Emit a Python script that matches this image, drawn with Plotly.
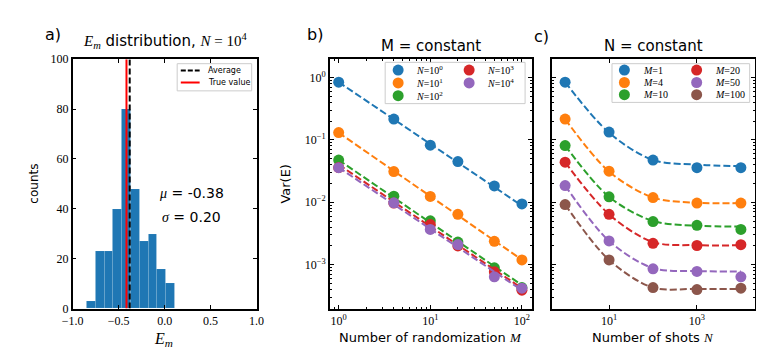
import numpy as np
import plotly.graph_objects as go

W, H = 764, 353

# ---- panel a: histogram of E_m for N = 10^4
bin_edges = [-0.848, -0.752, -0.657, -0.561, -0.465, -0.370, -0.274, -0.178, -0.082, 0.014, 0.110]
counts = [3, 23, 23, 40, 80, 48, 27, 30, 16, 10]
avg_value = -0.38
true_value = -0.415

# ---- panel b: Var(E) vs number of randomizations M (N fixed)
M_vals = [1, 4, 10, 20, 50, 100]
var_n1 = [0.84, 0.215, 0.082, 0.0448, 0.0183, 0.0094]
var_n10 = [0.131, 0.031, 0.0124, 0.0064, 0.00237, 0.00119]
var_n100 = [0.0475, 0.0125, 0.00505, 0.0023, 0.00089, 0.00043]
var_n1000 = [0.036, 0.0097, 0.0044, 0.0020, 0.00077, 0.00039]
var_n10000 = [0.0358, 0.0098, 0.00367, 0.0021, 0.00064, 0.00042]
# fitted lines (value at M=1 and M=100)
fit_M = [1, 100]
fit_n1 = [0.84, 0.0088]
fit_n10 = [0.13, 0.0012]
fit_n100 = [0.0475, 0.00047]
fit_n1000 = [0.040, 0.00042]
fit_n10000 = [0.036, 0.00039]

# ---- panel c: Var(E) vs number of shots N (M fixed)
N_vals = [1, 10, 100, 1000, 10000]
var_m1 = [0.84, 0.133, 0.0475, 0.0358, 0.0358]
var_m4 = [0.215, 0.0314, 0.0119, 0.0097, 0.0097]
var_m10 = [0.081, 0.0122, 0.0049, 0.00427, 0.00367]
var_m20 = [0.0438, 0.0064, 0.0022, 0.00203, 0.00209]
var_m50 = [0.0185, 0.0024, 0.00086, 0.00078, 0.00064]
var_m100 = [0.0092, 0.00119, 0.00043, 0.0004, 0.00042]
# fitted curves read at the same N
fitc_m1 = [0.84, 0.130, 0.0475, 0.040, 0.038]
fitc_m4 = [0.215, 0.031, 0.0119, 0.0098, 0.0097]
fitc_m10 = [0.081, 0.0122, 0.0050, 0.0042, 0.0041]
fitc_m20 = [0.0438, 0.0064, 0.0023, 0.00205, 0.00205]
fitc_m50 = [0.0185, 0.0024, 0.00088, 0.00079, 0.00078]
fitc_m100 = [0.0092, 0.00119, 0.00043, 0.00041, 0.00041]

colors = ["#1f77b4", "#ff7f0e", "#2ca02c", "#d62728", "#9467bd", "#8c564b"]
SERIF = "Liberation Serif"
SANS = "DejaVu Sans"


def px(x):
    return x / W


def py(y):
    return 1 - y / H


fig = go.Figure()

# histogram
edges = np.array(bin_edges)
fig.add_trace(go.Bar(x=edges[:-1], y=counts, width=np.diff(edges), offset=0,
                     marker=dict(color=colors[0], line=dict(color="rgba(255,255,255,0.15)", width=0.5)),
                     xaxis="x", yaxis="y", showlegend=False))
fig.add_trace(go.Scatter(x=[avg_value, avg_value], y=[0, 100], mode="lines",
                         line=dict(color="black", width=2, dash="6px,3px"),
                         xaxis="x", yaxis="y", showlegend=False))
fig.add_trace(go.Scatter(x=[true_value, true_value], y=[0, 100], mode="lines",
                         line=dict(color="red", width=2),
                         xaxis="x", yaxis="y", showlegend=False))

# panel b
series_b = [(var_n1, fit_n1), (var_n10, fit_n10), (var_n100, fit_n100),
            (var_n1000, fit_n1000), (var_n10000, fit_n10000)]
for i, (vals, fit) in enumerate(series_b):
    fig.add_trace(go.Scatter(x=fit_M, y=fit, mode="lines",
                             line=dict(color=colors[i], width=2, dash="7px,3px"),
                             xaxis="x2", yaxis="y2", showlegend=False))
    fig.add_trace(go.Scatter(x=M_vals, y=vals, mode="markers",
                             marker=dict(color=colors[i], size=11),
                             xaxis="x2", yaxis="y2", showlegend=False))

# panel c
series_c = [(var_m1, fitc_m1), (var_m4, fitc_m4), (var_m10, fitc_m10),
            (var_m20, fitc_m20), (var_m50, fitc_m50), (var_m100, fitc_m100)]
for i, (vals, fit) in enumerate(series_c):
    fig.add_trace(go.Scatter(x=N_vals, y=fit, mode="lines",
                             line=dict(color=colors[i], width=2, dash="7px,3px", shape="spline", smoothing=0.9),
                             xaxis="x3", yaxis="y3", showlegend=False))
    fig.add_trace(go.Scatter(x=N_vals, y=vals, mode="markers",
                             marker=dict(color=colors[i], size=11),
                             xaxis="x3", yaxis="y3", showlegend=False))

axis_common = dict(showline=True, linecolor="black", linewidth=1.5, mirror="ticks",
                   ticks="inside", ticklen=4, tickwidth=1, tickcolor="black",
                   showgrid=False, zeroline=False, tickfont=dict(family=SERIF, size=12, color="black"))
minor_common = dict(ticks="inside", ticklen=2, tickwidth=0.8, tickcolor="black", showgrid=False)

y_top, y_bot = 46, 305.7
minor_decades = [m * 10 ** e for e in range(-4, 2) for m in range(2, 10)]

fig.update_layout(
    width=W, height=H, margin=dict(l=0, r=0, t=0, b=0),
    paper_bgcolor="white", plot_bgcolor="white", showlegend=False, bargap=0,
    xaxis=dict(domain=[px(55), px(243.3)], anchor="y", range=[-1, 1],
               tickvals=[-1, -0.5, 0, 0.5, 1], ticktext=["\u22121.0", "\u22120.5", "0.0", "0.5", "1.0"],
               **axis_common),
    yaxis=dict(domain=[py(y_bot), py(y_top)], anchor="x", range=[0, 100],
               tickvals=[0, 20, 40, 60, 80, 100], **axis_common),
    xaxis2=dict(domain=[px(318.3), px(525)], anchor="y2", type="log",
                range=[np.log10(0.8), 2.106],
                tickvals=[1, 10, 100], ticktext=["10<sup>0</sup>", "10<sup>1</sup>", "10<sup>2</sup>"],
                minor=dict(tickmode="array", tickvals=minor_decades, **minor_common),
                **axis_common),
    yaxis2=dict(domain=[py(y_bot), py(y_top)], anchor="x2", type="log", range=[-3.703, 0.292],
                tickvals=[1, 0.1, 0.01, 0.001],
                ticktext=["10<sup>0</sup>", "10<sup>\u22121</sup>", "10<sup>\u22122</sup>", "10<sup>\u22123</sup>"],
                minor=dict(tickmode="array", tickvals=minor_decades, **minor_common),
                **axis_common),
    xaxis3=dict(domain=[px(545.7), px(753.3)], anchor="y3", type="log", range=[-0.302, 4.311],
                tickvals=[10, 1000], ticktext=["10<sup>1</sup>", "10<sup>3</sup>"],
                **axis_common),
    yaxis3=dict(domain=[py(y_bot), py(y_top)], anchor="x3", type="log", range=[-3.703, 0.292],
                tickvals=[1, 0.1, 0.01, 0.001], showticklabels=False,
                minor=dict(tickmode="array", tickvals=minor_decades, **minor_common),
                **axis_common),
)

ann = []


def text(x, y, s, size=13, family=SANS, anchor="center", angle=0):
    ann.append(dict(x=px(x), y=py(y), xref="paper", yref="paper", text=s, showarrow=False,
                    xanchor=anchor, yanchor="middle", textangle=angle,
                    font=dict(family=family, size=size, color="black")))


def math(s):
    return '<span style="font-family:%s"><i>%s</i></span>' % (SERIF, s)


# panel letters and titles
text(35, 20, "a)", 16)
text(303, 20, "b)", 16)
text(535, 22, "c)", 16)
text(150, 27, '<span style="font-family:%s"><i>E</i><sub><i>m</i></sub></span> distribution, '
     '<span style="font-family:%s"><i>N</i> = 10<sup>4</sup></span>' % (SERIF, SERIF), 15)
text(421.6, 32, "M = constant", 15)
text(649.5, 32, "N = constant", 15)

# axis labels
text(15, 176, "counts", 12, angle=-90)
text(148, 338, '<i>E</i><sub><i>m</i></sub>', 16, family=SERIF)
text(272, 176, "Var(E)", 13, angle=-90)
text(421.6, 336, "Number of randomization " + math("M"), 13)
text(649.5, 336, "Number of shots " + math("N"), 13)

# mean / std text
text(177, 185, math("\u03bc") + " = -0.38", 14)
text(177, 210, math("\u03c3") + " = 0.20", 14)

shapes = []


def box(x0, y0, x1, y1):
    shapes.append(dict(type="rect", xref="paper", yref="paper", x0=px(x0), x1=px(x1),
                       y0=py(y1), y1=py(y0), fillcolor="rgba(255,255,255,0.85)",
                       line=dict(color="#cccccc", width=1)))


def dot(x, y, c):
    shapes.append(dict(type="circle", xref="paper", yref="paper", xsizemode="pixel", ysizemode="pixel",
                       xanchor=px(x), yanchor=py(y), x0=-5.5, x1=5.5, y0=-5.5, y1=5.5,
                       fillcolor=c, line=dict(width=0)))


# legend panel a
box(162, 50.7, 238.3, 79)
shapes.append(dict(type="line", xref="paper", yref="paper", x0=px(165.7), x1=px(185), y0=py(57.7), y1=py(57.7),
                   line=dict(color="black", width=2, dash="5px,2px")))
shapes.append(dict(type="line", xref="paper", yref="paper", x0=px(165.7), x1=px(185), y0=py(70.3), y1=py(70.3),
                   line=dict(color="red", width=2)))
text(192, 57.7, "Average", 8, anchor="left")
text(192, 70.3, "True value", 8, anchor="left")

# legend panel b
box(375, 49.3, 518.3, 92.3)
b_pos = [(388.3, 57.3), (388.3, 70.7), (388.3, 84), (461, 57.3), (461, 70.7)]
for i, (x, y) in enumerate(b_pos):
    dot(x, y, colors[i])
    text(x + 16.5, y, "<i>N</i>=10<sup>%d</sup>" % i, 10, family=SERIF, anchor="left")

# legend panel c
box(607.3, 50.7, 748.3, 91)
c_pos = [(620, 57.3), (620, 70.3), (620, 83), (694, 57.3), (694, 70.3), (694, 83)]
m_labels = ["1", "4", "10", "20", "50", "100"]
for i, (x, y) in enumerate(c_pos):
    dot(x, y, colors[i])
    text(x + 17, y, "<i>M</i>=" + m_labels[i], 10, family=SERIF, anchor="left")

fig.update_layout(annotations=ann, shapes=shapes)

fig.write_html("out.html")
